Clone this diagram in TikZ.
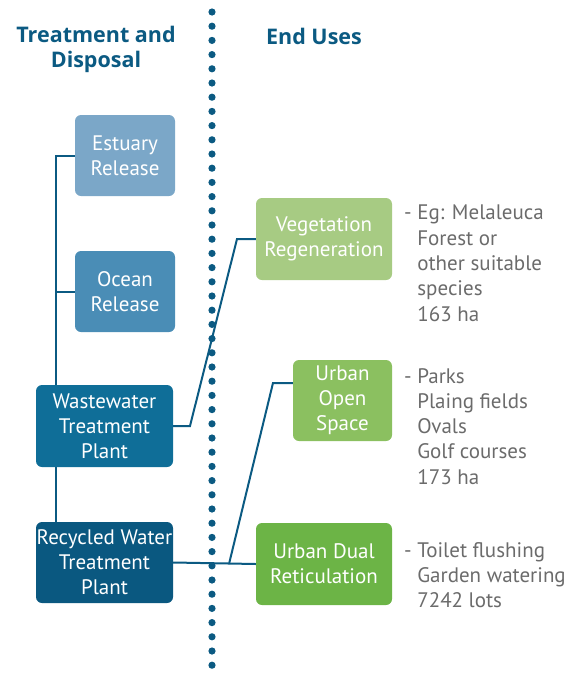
\documentclass[tikz,border=0pt]{standalone}
\usepackage{fontspec}
\setmainfont{PT Sans}
\newfontfamily\headfont{Open Sans}
\definecolor{cEst}{HTML}{7BA7C8}
\definecolor{cOcean}{HTML}{4A8DB6}
\definecolor{cWtp}{HTML}{0F6E98}
\definecolor{cRwtp}{HTML}{0A5880}
\definecolor{cVeg}{HTML}{A7CB83}
\definecolor{cUos}{HTML}{8BC060}
\definecolor{cUdr}{HTML}{6CB446}
\definecolor{cLine}{HTML}{0B5A82}
\definecolor{cGray}{HTML}{6B6B6B}
\pgfdeclarelayer{background}
\pgfsetlayers{background,main}
\begin{document}
\begin{tikzpicture}[x=1pt,y=-1pt,
  box/.style={rounded corners=6pt, text=white, align=center, inner sep=0pt,
    font=\fontsize{21}{25}\selectfont},
  conn/.style={draw=cLine, line width=2pt},
  head/.style={text=cLine, align=center, font=\headfont\fontsize{21.5}{25}\selectfont\bfseries},
  side/.style={text=cGray, align=left, anchor=north west, inner sep=0pt,
    font=\fontsize{21}{25.3}\selectfont}]
\useasboundingbox (0,0) rectangle (585,673);
% dotted divider
\foreach \i in {0,...,46} \fill[cLine] (212,12+\i*14.2) circle (3.6);
% headings
\node[head] (h1) at (96,49) {Treatment and\\Disposal};
\node[head] (h2) at (314,36) {End Uses};
% boxes
\node[box, fill=cEst, minimum width=100pt, minimum height=81pt] (est) at (125,155.5) {Estuary\\Release};
\node[box, fill=cOcean, minimum width=100pt, minimum height=81pt] (ocean) at (125,291.5) {Ocean\\Release};
\node[box, fill=cWtp, minimum width=137pt, minimum height=82pt] (wtp) at (104.5,426) {Wastewater\\Treatment\\Plant};
\node[box, fill=cRwtp, minimum width=137pt, minimum height=81pt] (rwtp) at (104.5,562.5) {Recycled Water\\Treatment\\Plant};
\node[box, fill=cVeg, minimum width=136pt, minimum height=82pt] (veg) at (324,239) {Vegetation\\Regeneration};
\node[box, fill=cUos, minimum width=99pt, minimum height=81pt] (uos) at (342.5,400.5) {Urban\\Open\\Space};
\node[box, fill=cUdr, minimum width=136pt, minimum height=82pt] (udr) at (324,564) {Urban Dual\\Reticulation};
% connectors
\begin{pgfonlayer}{background}
\coordinate (vtop) at (56,155.5);
\draw[conn] (est.west) -- (vtop) -- (vtop |- rwtp.north);
\draw[conn] (ocean.west) -- (vtop |- ocean.west);
\coordinate (k1) at (190,426);
\coordinate (k2) at (237,239);
\draw[conn] (wtp.east) -- (k1) -- (k2) -- (veg.west);
\draw[conn] (rwtp.east) -- (udr.west);
\coordinate (k3) at (229,564);
\coordinate (k4) at (273,383);
\draw[conn] (k3) -- (k4) -- (k4 -| uos.west);
\end{pgfonlayer}
% side notes
\node[side] (n1) at (404,205) {- Eg: Melaleuca\\\phantom{- }Forest or\\\phantom{- }other suitable\\\phantom{- }species\\\phantom{- }163 ha};
\node[side] (n2) at (404,368) {- Parks\\\phantom{- }Plaing fields\\\phantom{- }Ovals\\\phantom{- }Golf courses\\\phantom{- }173 ha};
\node[side] (n3) at (404,542) {- Toilet flushing\\\phantom{- }Garden watering\\\phantom{- }7242 lots};
\end{tikzpicture}
\end{document}
